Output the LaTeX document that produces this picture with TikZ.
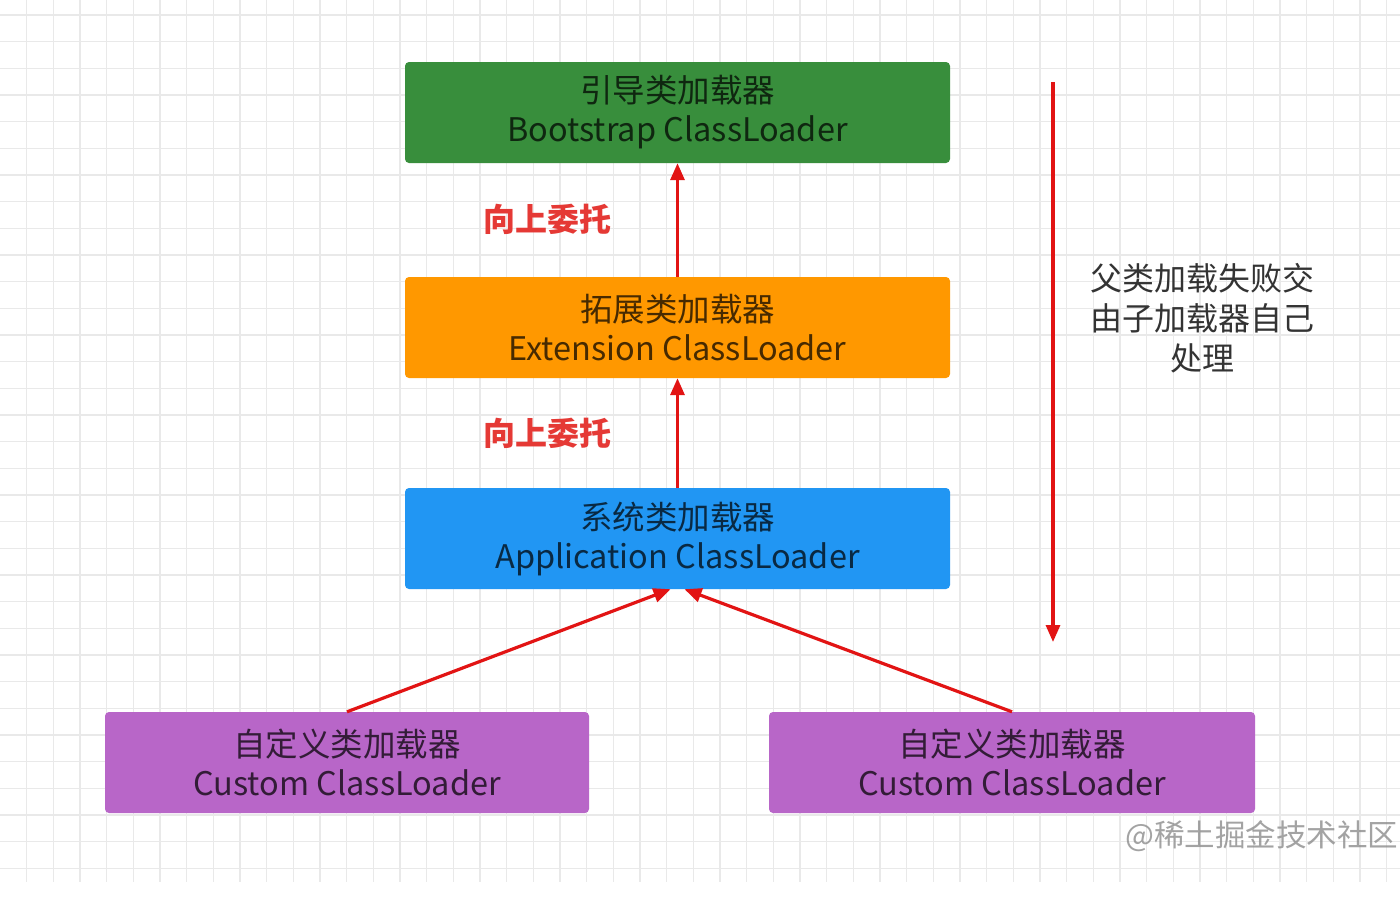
\documentclass[tikz,border=0pt]{standalone}
\usepackage{fontspec}
\setmainfont{Noto Sans CJK SC}
\usetikzlibrary{arrows.meta,calc}
\definecolor{bootgreen}{HTML}{388E3C}
\definecolor{extorange}{HTML}{FF9800}
\definecolor{appblue}{HTML}{2196F3}
\definecolor{custpurple}{HTML}{B866C8}
\definecolor{arrred}{RGB}{226,20,20}
\definecolor{lblred}{RGB}{229,57,53}
\definecolor{gridminor}{HTML}{E9E9E9}
\definecolor{note}{HTML}{333333}
\tikzset{
  loader/.style={rounded corners=4pt, minimum height=101pt, align=center,
    text=black, text opacity=0.72, inner sep=0pt,
    font={\fontsize{32.5}{39}\selectfont}},
  arr/.style={draw=arrred, line width=3.2pt, -{Triangle[length=17pt,width=14pt]}},
  lbl/.style={text=lblred, font={\fontsize{32}{36}\selectfont\bfseries}},
}
\begin{document}
\begin{tikzpicture}[x=1pt,y=-1pt]
\path[fill=white] (0,0) rectangle (1400,906);
\useasboundingbox (0,0) rectangle (1400,906);
% grid
\foreach \i in {1,...,52} {
  \draw[gridminor, line width=1.3pt] ({26.667*\i},0) -- ({26.667*\i},882);
}
\foreach \j in {0,...,32} {
  \draw[gridminor, line width=1.3pt] (0,{15+26.667*\j}) -- (1400,{15+26.667*\j});
}
% boxes
\node[loader, fill=bootgreen, minimum width=545pt] (boot) at (677.5,112.5) {引导类加载器\\Bootstrap ClassLoader};
\node[loader, fill=extorange, minimum width=545pt] (ext) at (677.5,327.5) {拓展类加载器\\Extension ClassLoader};
\node[loader, fill=appblue, minimum width=545pt] (app) at (677.5,538.5) {系统类加载器\\Application ClassLoader};
\node[loader, fill=custpurple, minimum width=484pt] (cl) at (347,762.5) {自定义类加载器\\Custom ClassLoader};
\node[loader, fill=custpurple, minimum width=486pt] (cr) at (1012,762.5) {自定义类加载器\\Custom ClassLoader};
% arrows
\draw[arr] (ext.north) -- (boot.south);
\draw[arr] (app.north) -- (ext.south);
\draw[arr] (cl.north) -- ($(app.south)+(-7,0)$);
\draw[arr] (cr.north) -- ($(app.south)+(7,0)$);
% labels
\node[lbl] (l1) at (547,219) {向上委托};
\node[lbl] (l2) at (547,433) {向上委托};
% long arrow
\coordinate (ltop) at (1053,82);
\coordinate (lbot) at (1053,642);
\draw[arr] (ltop) -- (lbot);
\node[align=center, text=note, font={\fontsize{32}{40}\selectfont}] (noteText) at (1202,318) {父类加载失败交\\由子加载器自己\\处理};
% watermark
\node[text=black!45, text opacity=0.8, font={\fontsize{30.5}{32}\selectfont}, anchor=west, inner sep=0pt] (wm) at (1125,836) {@稀土掘金技术社区};
\end{tikzpicture}
\end{document}
